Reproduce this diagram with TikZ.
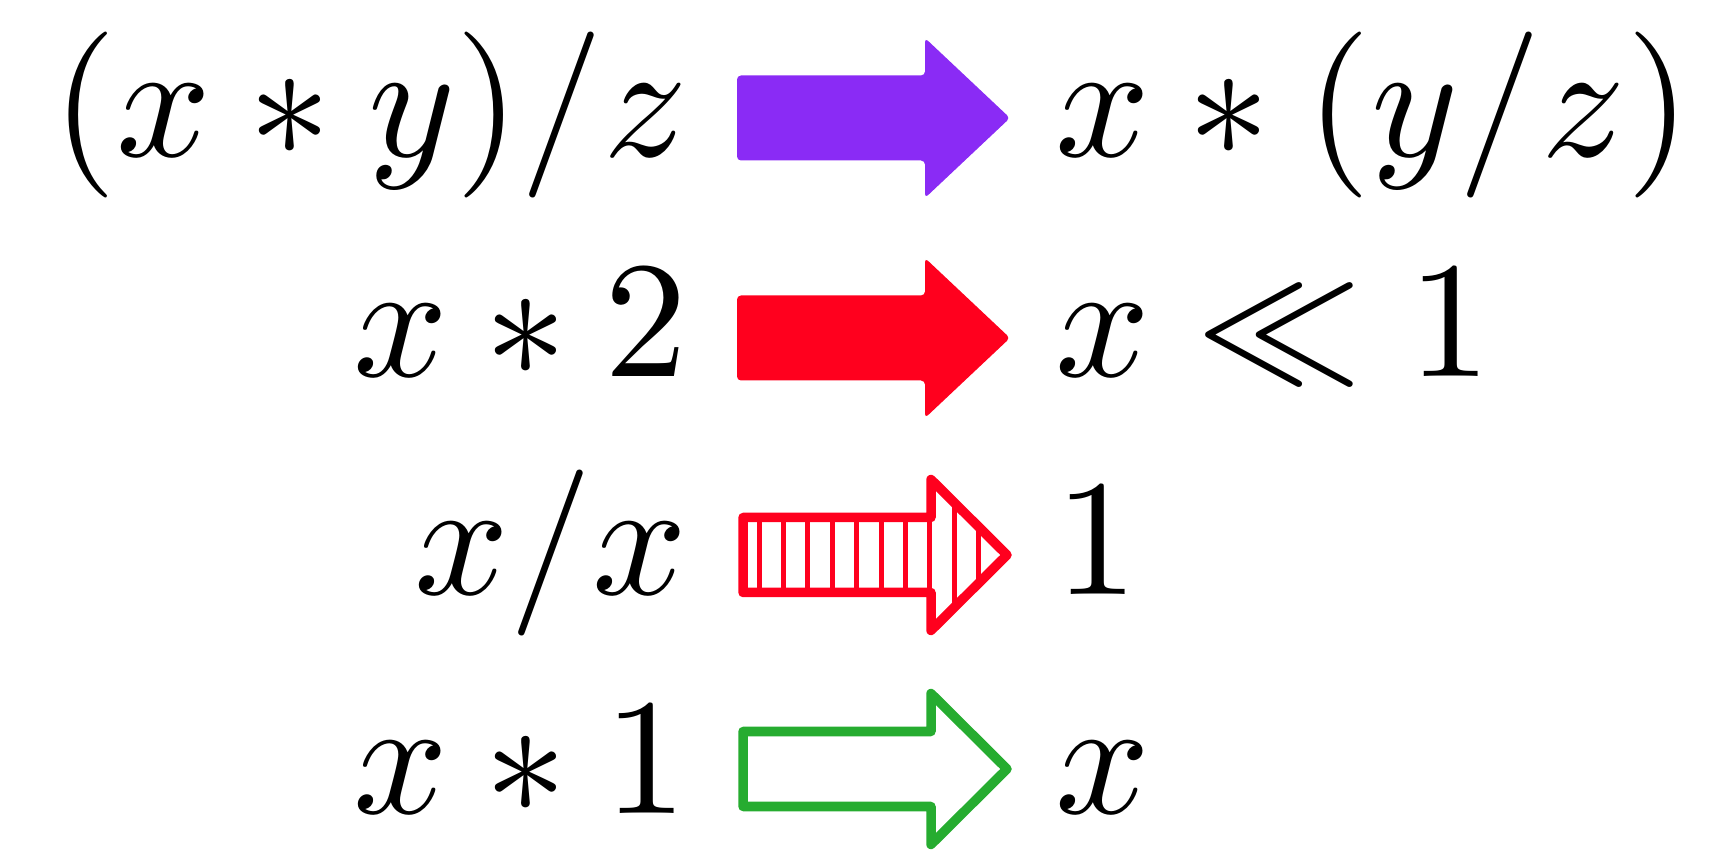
\documentclass[tikz,border=0pt]{standalone}

\definecolor{arrowpurple}{RGB}{138,43,245}
\definecolor{arrowred}{RGB}{255,0,30}
\definecolor{arrowgreen}{RGB}{38,172,48}

\tikzset{
  expr/.style={inner sep=0pt, scale=4.72},
  % filled block arrow, origin at the middle of the tail
  pics/solidarrow/.style={code={
    \fill[pic actions, rounded corners=0.04cm] (0,-42.5) -- (188,-42.5) -- (188,-80) -- (273,0)
      -- (188,80) -- (188,42.5) -- (0,42.5) -- cycle;
  }},
  % outlined block arrow, same size
  pics/openarrow/.style={code={
    \draw[pic actions, line width=0.095cm, line join=round] (6,-37.5) -- (194,-37.5) -- (194,-75.5)
      -- (270,0) -- (194,75.5) -- (194,37.5) -- (6,37.5) -- cycle;
  }},
}

\begin{document}
\begin{tikzpicture}[x=0.01cm, y=-0.01cm]
    \useasboundingbox (0,0) rectangle (1714,861);

    \node[expr, anchor=base east] (lhs1) at (691,157) {$(x*y)/z$};
    \node[expr, anchor=base east] (lhs2) at (691,377) {$x*2$};
    \node[expr, anchor=base east] (lhs3) at (691,595) {$x/x$};
    \node[expr, anchor=base east] (lhs4) at (691,814) {$x*1$};

    \node[expr, anchor=base west] (rhs1) at (1052,157) {$x*(y/z)$};
    \node[expr, anchor=base west] (rhs2) at (1052,377) {$x\ll 1$};
    \node[expr, anchor=base west] (rhs3) at (1052,595) {$1$};
    \node[expr, anchor=base west] (rhs4) at (1052,814) {$x$};

    \coordinate (tail1) at (737,118);
    \coordinate (tail2) at (737,338);
    \coordinate (tail3) at (737,555);
    \coordinate (tail4) at (737,769);

    \pic[fill=arrowpurple] at (tail1) {solidarrow};
    \pic[fill=arrowred] at (tail2) {solidarrow};

    % hatched arrow
    \begin{scope}[shift={(tail3)}]
        \clip (6,-37.5) -- (194,-37.5) -- (194,-75.5) -- (270,0) -- (194,75.5) -- (194,37.5) -- (6,37.5) -- cycle;
        \foreach \k in {0,...,9}
            \draw[arrowred, line width=0.05cm] ({22+24.4*\k},-90) -- ++(0,180);
    \end{scope}
    \pic[draw=arrowred] at (tail3) {openarrow};

    \pic[draw=arrowgreen] at (tail4) {openarrow};
\end{tikzpicture}
\end{document}
